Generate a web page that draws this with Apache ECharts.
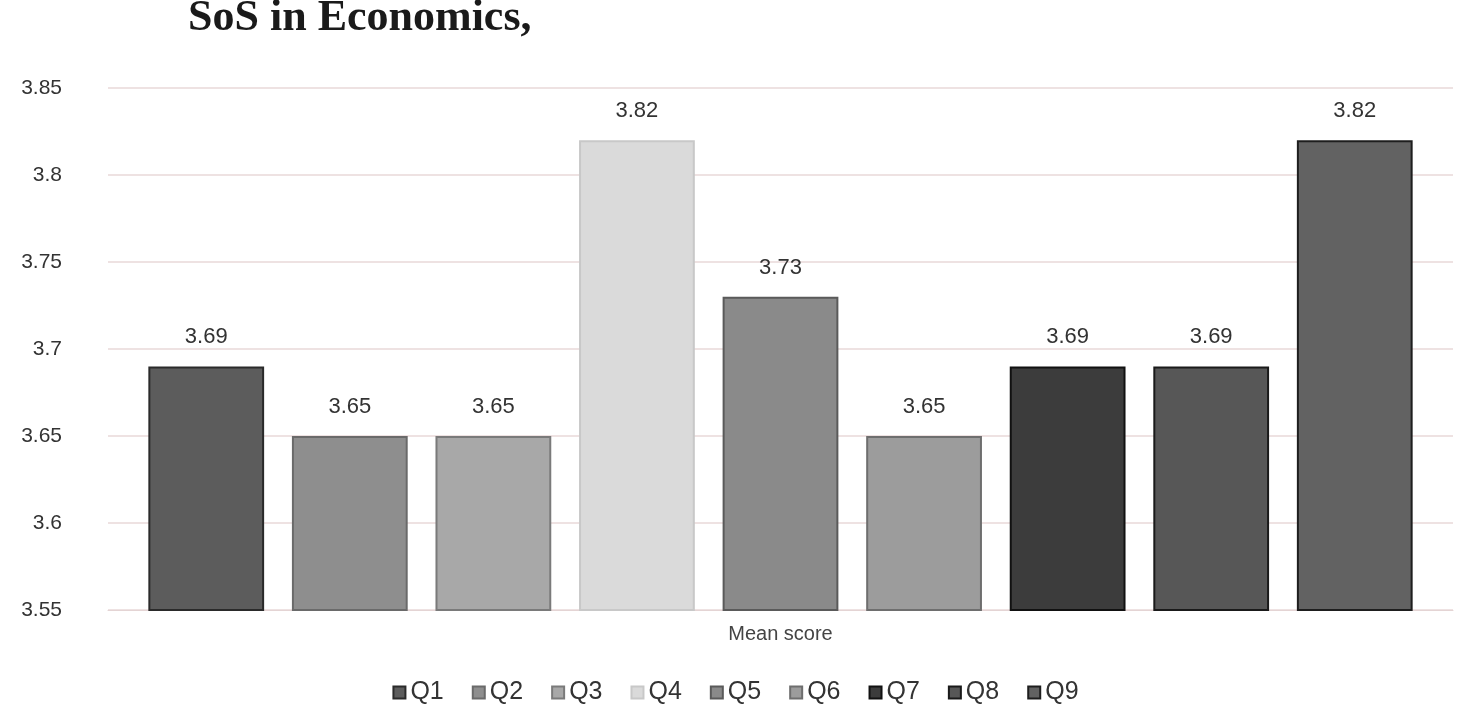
<!DOCTYPE html>
<html>
<head>
<meta charset="utf-8">
<script src="https://cdn.jsdelivr.net/npm/echarts@6/dist/echarts.min.js"></script>
<style>
html,body{margin:0;padding:0;background:#fff;}
#chart{width:1471px;height:722px;}
</style>
</head>
<body>
<div id="chart"></div>
<script>
var titleText = "SoS in Economics,";
var categories = ["Mean score"];
var seriesNames = ["Q1","Q2","Q3","Q4","Q5","Q6","Q7","Q8","Q9"];
var seriesValues = [3.69, 3.65, 3.65, 3.82, 3.73, 3.65, 3.69, 3.69, 3.82];
var yTicks = [3.55, 3.6, 3.65, 3.7, 3.75, 3.8, 3.85];

var fills = ["#5c5c5c","#8e8e8e","#a8a8a8","#dadada","#8a8a8a","#9c9c9c","#3c3c3c","#575757","#626262"];
var borders = ["#2a2a2a","#6a6a6a","#7a7a7a","#c8c8c8","#5a5a5a","#6e6e6e","#111111","#1a1a1a","#1e1e1e"];

var series = seriesNames.map(function(n, i){
  return {
    name: n,
    type: 'bar',
    data: [seriesValues[i]],
    barGap: '24%',
    barCategoryGap: '6%',
    itemStyle: {color: fills[i], borderColor: borders[i], borderWidth: 2},
    label: {
      show: true, position: 'top', distance: 18,
      color: '#333', fontSize: 22, fontFamily: 'Liberation Sans, Arial, sans-serif',
      formatter: function(p){ return p.value.toFixed(2); }
    }
  };
});

var chart = echarts.init(document.getElementById('chart'));
chart.setOption({
  animation: false,
  backgroundColor: '#ffffff',
  title: {
    text: titleText,
    left: 183, top: -8,
    textStyle: {fontFamily: 'Liberation Serif, DejaVu Serif, serif', fontWeight: 'bold', fontSize: 44, color: '#1a1a1a'}
  },
  legend: {
    data: seriesNames,
    bottom: 12, left: 'center',
    itemWidth: 12, itemHeight: 12, itemGap: 28,
    icon: 'rect',
    textStyle: {fontSize: 25, color: '#333', fontFamily: 'Liberation Sans, Arial, sans-serif'}
  },
  grid: {left: 108, right: 18, top: 88, bottom: 112},
  xAxis: {
    type: 'category',
    data: categories,
    axisLine: {show: true, lineStyle: {color: '#e4d4d4'}},
    axisTick: {show: false},
    axisLabel: {fontSize: 20, color: '#444', margin: 14, fontFamily: 'Liberation Sans, Arial, sans-serif'}
  },
  yAxis: {
    type: 'value',
    min: 3.55, max: 3.85, interval: 0.05,
    axisLine: {show: false},
    axisTick: {show: false},
    splitLine: {lineStyle: {color: '#e8d8d8', width: 1.5}},
    axisLabel: {
      fontSize: 21, color: '#333', margin: 46,
      fontFamily: 'Liberation Sans, Arial, sans-serif',
      formatter: function(v){
        var best = yTicks[0];
        yTicks.forEach(function(t){ if (Math.abs(t - v) < Math.abs(best - v)) best = t; });
        return String(best);
      }
    }
  },
  series: series
});
</script>
</body>
</html>
